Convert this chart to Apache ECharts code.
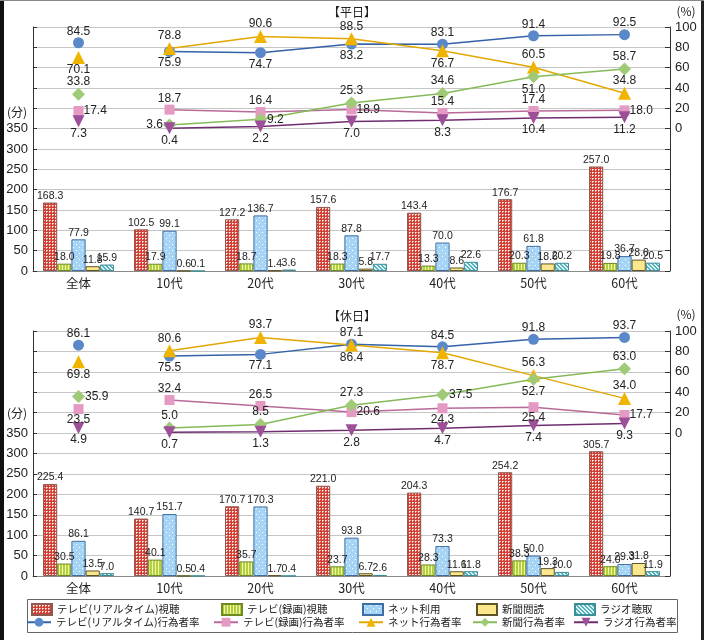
<!DOCTYPE html>
<html><head><meta charset="utf-8">
<script src="https://cdn.jsdelivr.net/npm/echarts@6/dist/echarts.min.js"></script>
<style>html,body{margin:0;padding:0;background:#fff}#c{width:704px;height:640px}</style>
</head><body><div id="c"></div>
<script>
// ---------- DATA ----------
const categories = ['全体', '10代', '20代', '30代', '40代', '50代', '60代'];
const barNames = ['テレビ(リアルタイム)視聴', 'テレビ(録画)視聴', 'ネット利用', '新聞閲読', 'ラジオ聴取'];
const lineNames = ['テレビ(リアルタイム)行為者率', 'テレビ(録画)行為者率', 'ネット行為者率', '新聞行為者率', 'ラジオ行為者率'];
const leftTicks = [0, 50, 100, 150, 200, 250, 300, 350];
const rightTicks = [0, 20, 40, 60, 80, 100];

// 平日 (weekday) minutes
const wdTvRealtime = [168.3, 102.5, 127.2, 157.6, 143.4, 176.7, 257.0];
const wdTvRecorded = [18.0, 17.9, 18.7, 18.3, 13.3, 20.3, 19.8];
const wdNet = [77.9, 99.1, 136.7, 87.8, 70.0, 61.8, 36.7];
const wdPaper = [11.8, 0.6, 1.4, 5.8, 8.6, 18.6, 28.0];
const wdRadio = [15.9, 0.1, 3.6, 17.7, 22.6, 20.2, 20.5];
// 平日 rates (%)
const wdTvRealtimeRate = [84.5, 75.9, 74.7, 83.2, 83.1, 91.4, 92.5];
const wdTvRecordedRate = [17.4, 18.7, 16.4, 18.9, 15.4, 17.4, 18.0];
const wdNetRate = [70.1, 78.8, 90.6, 88.5, 76.7, 60.5, 34.8];
const wdPaperRate = [33.8, 3.6, 9.2, 25.3, 34.6, 51.0, 58.7];
const wdRadioRate = [7.3, 0.4, 2.2, 7.0, 8.3, 10.4, 11.2];

// 休日 (holiday) minutes
const hdTvRealtime = [225.4, 140.7, 170.7, 221.0, 204.3, 254.2, 305.7];
const hdTvRecorded = [30.5, 40.1, 35.7, 23.7, 28.3, 38.3, 24.0];
const hdNet = [86.1, 151.7, 170.3, 93.8, 73.3, 50.0, 29.3];
const hdPaper = [13.5, 0.5, 1.7, 6.7, 11.6, 19.3, 31.8];
const hdRadio = [7.0, 0.4, 0.4, 2.6, 11.8, 10.0, 11.9];
// 休日 rates (%)
const hdTvRealtimeRate = [86.1, 75.5, 77.1, 87.1, 84.5, 91.8, 93.7];
const hdTvRecordedRate = [23.5, 32.4, 26.5, 20.6, 24.3, 25.4, 17.7];
const hdNetRate = [69.8, 80.6, 93.7, 86.4, 78.7, 56.3, 34.0];
const hdPaperRate = [35.9, 5.0, 8.5, 27.3, 37.5, 52.7, 63.0];
const hdRadioRate = [4.9, 0.7, 1.3, 2.8, 4.7, 7.4, 9.3];

// ---------- LABEL PLACEMENT (style) ----------
const wdPos = [
  ['top', 'bottom', 'bottom', 'bottom', 'top', 'top', 'top'],
  ['right', 'top', 'top', 'right', 'top', 'top', 'right'],
  ['bottom', 'top', 'top', 'top', 'bottom', 'top', 'top'],
  ['top', 'left', 'right', 'top', 'top', 'bottom', 'top'],
  ['bottom', 'bottom', 'bottom', 'bottom', 'bottom', 'bottom', 'bottom']
];
const hdPos = [
  ['top', 'bottom', 'bottom', 'top', 'top', 'top', 'top'],
  ['bottom', 'top', 'top', 'right', 'bottom', 'bottom', 'right'],
  ['bottom', 'top', 'top', 'bottom', 'bottom', 'top', 'top'],
  ['right', 'top', 'top', 'top', 'right', 'bottom', 'top'],
  ['bottom', 'bottom', 'bottom', 'bottom', 'bottom', 'bottom', 'bottom']
];

// ---------- STYLE ----------
const FONT_NUM = '"Liberation Sans", Arial, sans-serif';
const FONT_JP = '"Noto Sans CJK JP", sans-serif';

function pattern(w, h, draw) {
  const c = document.createElement('canvas');
  c.width = w; c.height = h;
  const ctx = c.getContext('2d');
  draw(ctx);
  return { image: c, repeat: 'repeat' };
}
const patRealtime = pattern(3, 3, ctx => {
  ctx.fillStyle = '#d23f35'; ctx.fillRect(0, 0, 3, 3);
  ctx.fillStyle = '#ffffff'; ctx.fillRect(1, 1, 1, 1);
  ctx.fillStyle = '#f2b8b0'; ctx.fillRect(2, 1, 1, 1); ctx.fillRect(1, 2, 1, 1);
});
const patRecorded = pattern(3, 3, ctx => {
  ctx.fillStyle = '#b4d13a'; ctx.fillRect(0, 0, 3, 3);
  ctx.fillStyle = '#eef6b8'; ctx.fillRect(2, 0, 1, 3);
});
const patNet = pattern(6, 6, ctx => {
  ctx.fillStyle = '#a6d4f4'; ctx.fillRect(0, 0, 6, 6);
  ctx.fillStyle = '#ffffff';
  ctx.fillRect(1, 1, 1, 1); ctx.fillRect(4, 4, 1, 1);
});
const patRadio = pattern(4, 4, ctx => {
  ctx.fillStyle = '#dff2f4'; ctx.fillRect(0, 0, 4, 4);
  ctx.fillStyle = '#55b1bb';
  for (let i = 0; i < 4; i++) { ctx.fillRect(i, i, 1, 1); ctx.fillRect((i + 1) % 4, i, 1, 1); }
});

const barStyles = [
  { color: patRealtime, borderColor: '#8e5a52' },
  { color: patRecorded, borderColor: '#6f8a22' },
  { color: patNet, borderColor: '#3d6fa6' },
  { color: '#fbe78c', borderColor: '#5f5426' },
  { color: patRadio, borderColor: '#3c8e98' }
];
const lineStyles = [
  { line: '#3462a8', fill: '#5b88c9', symbol: 'circle', size: 11, rotate: 0 },
  { line: '#b86a98', fill: '#e49ac2', symbol: 'rect', size: 10, rotate: 0 },
  { line: '#e2a700', fill: '#f0b400', symbol: 'triangle', size: 13, rotate: 0 },
  { line: '#86ba58', fill: '#9fcb77', symbol: 'diamond', size: 13, rotate: 0 },
  { line: '#6f2d70', fill: '#9d4f98', symbol: 'triangle', size: 12, rotate: 180 }
];

const fmt1 = p => Number(p.value).toFixed(1);

function panelSeries(g, bars, rates, pos) {
  const out = [];
  bars.forEach((arr, k) => {
    out.push({
      type: 'bar', name: barNames[k], xAxisIndex: g, yAxisIndex: g * 2,
      data: arr, barGap: '0%', barCategoryGap: '22%',
      itemStyle: { color: barStyles[k].color, borderColor: barStyles[k].borderColor, borderWidth: 1 },
      label: { show: true, position: 'top', distance: 1, formatter: fmt1, fontSize: 10.5, color: '#222', fontFamily: FONT_NUM },
      z: 2
    });
  });
  rates.forEach((arr, k) => {
    const st = lineStyles[k];
    const common = {
      type: 'line', xAxisIndex: g, yAxisIndex: g * 2 + 1,
      symbol: st.symbol, symbolSize: st.size, symbolRotate: st.rotate, showSymbol: true,
      lineStyle: { color: st.line, width: 1.5 },
      itemStyle: { color: st.fill, borderColor: st.fill, borderWidth: 0 },
      label: { show: true, formatter: fmt1, fontSize: 12, color: '#222', fontFamily: FONT_NUM, distance: 0 },
      z: 5, animation: false
    };
    out.push(Object.assign({}, common, {
      name: lineNames[k],
      data: arr.map((v, i) => i === 0 ? '-' : { value: v, label: { position: pos[k][i] } })
    }));
    out.push(Object.assign({}, common, {
      name: lineNames[k] + '_all',
      data: arr.map((v, i) => i === 0 ? { value: v, label: { position: pos[k][i] } } : '-')
    }));
  });
  return out;
}

function xAxis(g) {
  return {
    type: 'category', gridIndex: g, data: categories,
    axisLine: { lineStyle: { color: '#8a8a8a' } },
    axisTick: { inside: true, length: 5, lineStyle: { color: '#555' } },
    axisLabel: { fontSize: 12.5, color: '#222', margin: 6, fontFamily: FONT_JP }
  };
}
function yLeft(g) {
  return {
    type: 'value', gridIndex: g, position: 'left', min: 0, max: 600, interval: 50,
    axisLine: { show: true, lineStyle: { color: '#333' } },
    axisTick: { show: true, inside: true, length: 4, lineStyle: { color: '#333' } },
    axisLabel: { formatter: v => leftTicks.indexOf(v) >= 0 ? String(v) : '', fontSize: 13, color: '#222', margin: 5, fontFamily: FONT_NUM },
    splitLine: { show: true, lineStyle: { color: '#c6c6c6' } }
  };
}
function yRight(g) {
  return {
    type: 'value', gridIndex: g, position: 'right', min: -140, max: 100, interval: 20,
    axisLine: { show: true, lineStyle: { color: '#333' } },
    axisTick: { show: true, inside: true, length: 5, lineStyle: { color: '#333' } },
    axisLabel: { formatter: v => rightTicks.indexOf(v) >= 0 ? String(v) : '', fontSize: 13, color: '#222', margin: 5, fontFamily: FONT_NUM },
    splitLine: { show: false }
  };
}

const legendRow1X = [31, 221, 362, 476, 574];
const legendRow2X = [26, 213, 358, 472, 573];
const legends = [];
barNames.forEach((n, k) => legends.push({
  data: [n], left: legendRow1X[k], top: 603, padding: 0, itemWidth: 20, itemHeight: 11, icon: 'rect',
  selectedMode: false, textStyle: { fontSize: 10.5, color: '#222', fontFamily: FONT_JP }
}));
lineNames.forEach((n, k) => legends.push({
  data: [n], left: legendRow2X[k], top: 617, padding: 0, itemWidth: 24, itemHeight: 11,
  selectedMode: false, textStyle: { fontSize: 10.5, color: '#222', fontFamily: FONT_JP }
}));

const txt = (x, y, s, align) => ({
  type: 'text', x: x, y: y,
  style: { text: s, fill: '#222', font: '12px ' + FONT_JP, textAlign: align || 'center', textVerticalAlign: 'middle' }
});

const option = {
  animation: false,
  backgroundColor: '#fff',
  grid: [
    { left: 33, right: 34, top: 27, height: 244 },
    { left: 33, right: 34, top: 331, height: 245 }
  ],
  xAxis: [xAxis(0), xAxis(1)],
  yAxis: [yLeft(0), yRight(0), yLeft(1), yRight(1)],
  legend: legends,
  graphic: [
    txt(352, 12, '【平日】'), txt(686, 11, '(%)'), txt(17, 112, '(分)'),
    txt(352, 316, '【休日】'), txt(686, 314, '(%)'), txt(17, 413, '(分)'),
    { type: 'rect', shape: { x: 27.5, y: 599.5, width: 650, height: 33 }, style: { fill: 'none', stroke: '#666', lineWidth: 1 } },
    { type: 'rect', shape: { x: 0, y: 0, width: 4, height: 640 }, style: { fill: '#111' } },
    { type: 'rect', shape: { x: 701, y: 0, width: 3, height: 640 }, style: { fill: '#222' } },
    { type: 'rect', shape: { x: 0, y: 0, width: 704, height: 1 }, style: { fill: '#888' } }
  ],
  series: [].concat(
    panelSeries(0, [wdTvRealtime, wdTvRecorded, wdNet, wdPaper, wdRadio],
      [wdTvRealtimeRate, wdTvRecordedRate, wdNetRate, wdPaperRate, wdRadioRate], wdPos),
    panelSeries(1, [hdTvRealtime, hdTvRecorded, hdNet, hdPaper, hdRadio],
      [hdTvRealtimeRate, hdTvRecordedRate, hdNetRate, hdPaperRate, hdRadioRate], hdPos)
  )
};
echarts.init(document.getElementById('c'), null, { renderer: 'canvas' }).setOption(option);
</script></body></html>
